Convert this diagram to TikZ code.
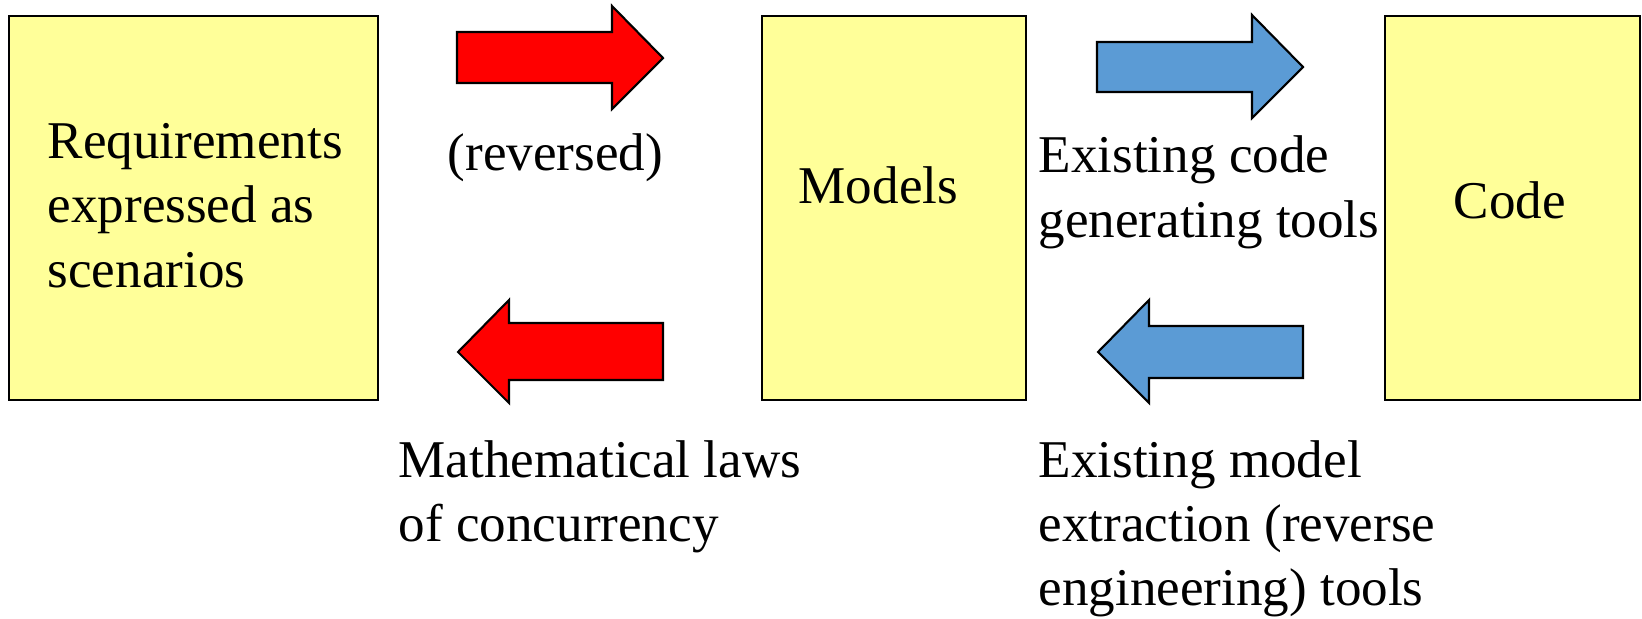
\documentclass[tikz,border=0pt]{standalone}
\usepackage{fontspec}
\setmainfont{Liberation Serif}
\definecolor{paleyellow}{RGB}{255,255,153}
\definecolor{skyblue}{RGB}{91,155,213}
\tikzset{
  box/.style={draw=black,fill=paleyellow,line width=0.6pt,inner sep=0pt,
    minimum height=3.84cm},
  fat/.style={draw=black,fill=#1,line width=0.6pt,line join=miter},
  fat/.default=red,
  % anchored at the baseline of the last line
  words/.style={font=\fontsize{15.1}{18.2}\selectfont,align=left,inner sep=0pt,
    anchor=base west},
}
\begin{document}
\begin{tikzpicture}[x=0.01cm,y=-0.01cm]
  \useasboundingbox (0,0) rectangle (1642,618);
  % the three stages
  \node[box,minimum width=3.69cm] (req) at (193.5,208) {};
  \node[box,minimum width=2.64cm] (mod) at (894,208) {};
  \node[box,minimum width=2.55cm] (code) at (1512.5,208) {};
  \node[words] (reqtxt) at (47,287) {Requirements\\expressed as\\scenarios};
  \node[words] (modtxt) at (798,203) {Models};
  \node[words] (codetxt) at (1453,218) {Code};
  % block arrows
  \draw[fat=red] (457,32) -- (612,32) -- (612,6) -- (663,58) -- (612,109) -- (612,83) -- (457,83) -- cycle;
  \draw[fat=skyblue] (1097,42) -- (1252,42) -- (1252,15) -- (1303,67) -- (1252,118) -- (1252,92) -- (1097,92) -- cycle;
  \draw[fat=red] (663,323) -- (509,323) -- (509,300) -- (458,352) -- (509,403) -- (509,380) -- (663,380) -- cycle;
  \draw[fat=skyblue] (1303,326) -- (1149,326) -- (1149,300) -- (1098,352) -- (1149,403) -- (1149,378) -- (1303,378) -- cycle;
  % labels
  \node[words] (rev) at (447,170) {(reversed)};
  \node[words] (gen) at (1038,237) {Existing code\\generating tools};
  \node[words] (laws) at (398,541) {Mathematical laws\\of concurrency};
  \node[words] (extr) at (1038,605) {Existing model\\extraction (reverse\\engineering) tools};
\end{tikzpicture}
\end{document}
